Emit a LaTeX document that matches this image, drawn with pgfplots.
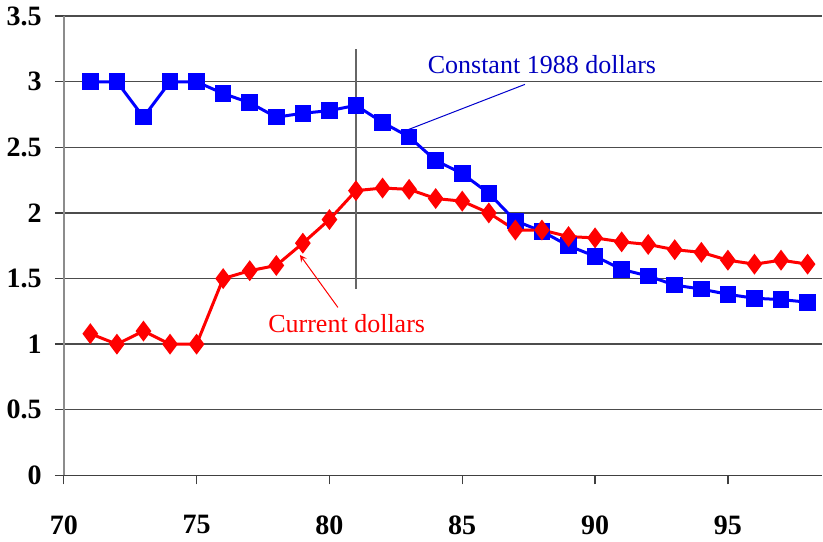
\documentclass[border=0pt]{standalone}
\usepackage{fontspec}
\setmainfont{Liberation Serif}
\usepackage{pgfplots}
\pgfplotsset{compat=1.18}
\begin{document}
\begin{tikzpicture}
\begin{axis}[
  scale only axis,
  width=379pt, height=229.5pt,
  xmin=70, xmax=98.55, ymin=0, ymax=3.5,
  xtick={70,75,80,85,90,95},
  ytick={0,0.5,1,1.5,2,2.5,3,3.5},
  yticklabels={0,0.5,1,1.5,2,2.5,3,3.5},
  axis x line*=bottom, axis y line*=left,
  x axis line style={black!75, line width=0.8pt, -},
  y axis line style={black!45, line width=0.8pt, -},
  ymajorgrids, major grid style={black!70, line width=0.7pt},
  tick style={black!75, line width=0.7pt},
  xtick align=outside, ytick align=outside,
  major tick length=4.5pt,
  /pgf/number format/assume math mode=true,
  tick label style={font=\fontsize{14}{16}\selectfont\bfseries},
  xticklabel style={yshift=-12pt},
  yticklabel style={xshift=-3pt},
  clip=false,
]
\draw[black!60, line width=0.7pt] (axis cs:81,1.42) -- (axis cs:81,3.25);
\addplot[blue, line width=1.5pt, mark=square*, mark size=3.4pt, mark options={solid}] coordinates {
(71,3.00) (72,3.00) (73,2.73) (74,3.00) (75,3.00) (76,2.91) (77,2.84) (78,2.73) (79,2.76) (80,2.78)
(81,2.82) (82,2.69) (83,2.58) (84,2.40) (85,2.30) (86,2.15) (87,1.94) (88,1.86) (89,1.75) (90,1.67)
(91,1.57) (92,1.52) (93,1.45) (94,1.42) (95,1.38) (96,1.35) (97,1.34) (98,1.32)};
\addplot[red, line width=1.5pt, mark=diamond*, mark size=4pt, mark options={solid}] coordinates {
(71,1.08) (72,1.00) (73,1.10) (74,1.00) (75,1.00) (76,1.50) (77,1.56) (78,1.60) (79,1.77) (80,1.95)
(81,2.17) (82,2.19) (83,2.18) (84,2.11) (85,2.09) (86,2.00) (87,1.87) (88,1.87) (89,1.82) (90,1.81)
(91,1.78) (92,1.76) (93,1.72) (94,1.70) (95,1.64) (96,1.61) (97,1.64) (98,1.61)};
\draw[blue!80!black, line width=0.5pt] (axis cs:87.36,2.98) -- (axis cs:82.9,2.63);
\draw[red, line width=0.5pt, ->, >=stealth] (axis cs:80.32,1.28) -- (axis cs:78.89,1.68);
\node[text=blue!75!black, font=\fontsize{13}{15}\selectfont] at (axis cs:88.0,3.13) {Constant 1988 dollars};
\node[text=red, font=\fontsize{13}{15}\selectfont] at (axis cs:80.65,1.16) {Current dollars};
\end{axis}
\end{tikzpicture}
\end{document}
